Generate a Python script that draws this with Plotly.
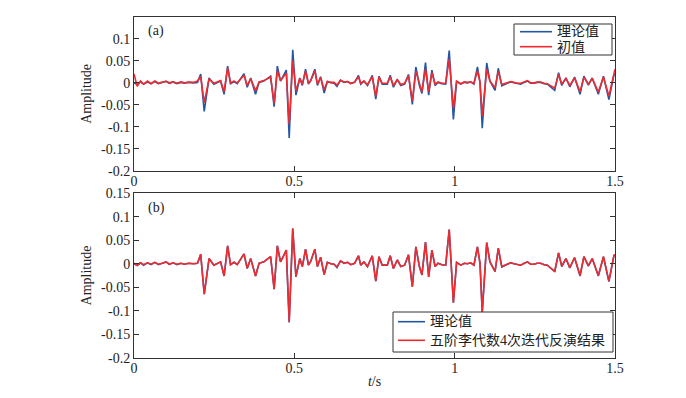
import plotly.graph_objects as go

# ---------------- data ----------------
t = [0.000, 0.010, 0.020, 0.030, 0.042, 0.053, 0.065, 0.076, 0.088, 0.100,
     0.110, 0.122, 0.134, 0.146, 0.158, 0.170, 0.185, 0.198, 0.208, 0.219,
     0.234, 0.249, 0.270, 0.281, 0.292, 0.301, 0.312, 0.322, 0.343, 0.353,
     0.364, 0.379, 0.390, 0.405, 0.426, 0.437, 0.447, 0.457, 0.475, 0.484,
     0.495, 0.505, 0.517, 0.525, 0.535, 0.544, 0.551, 0.564, 0.572, 0.582,
     0.593, 0.603, 0.614, 0.624, 0.633, 0.644, 0.655, 0.666, 0.676, 0.688,
     0.700, 0.707, 0.717, 0.728, 0.743, 0.754, 0.764, 0.774, 0.790, 0.799,
     0.809, 0.821, 0.832, 0.844, 0.856, 0.868, 0.879, 0.890, 0.898, 0.909,
     0.919, 0.929, 0.939, 0.948, 0.960, 0.972, 0.983, 0.996, 1.006, 1.019,
     1.030, 1.040, 1.050, 1.060, 1.071, 1.079, 1.086, 1.100, 1.110, 1.126,
     1.136, 1.147, 1.164, 1.175, 1.185, 1.196, 1.206, 1.217, 1.227, 1.237,
     1.247, 1.258, 1.268, 1.279, 1.289, 1.312, 1.324, 1.334, 1.347, 1.359,
     1.374, 1.391, 1.403, 1.417, 1.429, 1.448, 1.464, 1.481, 1.497, 1.500]

theory = [0.000, -0.004, 0.002, -0.003, 0.002, -0.002, 0.003, -0.002, 0.001, 0.004,
          -0.001, 0.002, -0.002, 0.001, -0.001, 0.001, 0.000, 0.001, 0.020, -0.065,
          0.011, -0.003, 0.004, -0.026, 0.038, -0.002, 0.003, -0.002, 0.021, -0.010,
          0.011, -0.026, 0.001, 0.004, 0.015, -0.054, 0.038, 0.004, 0.029, -0.125,
          0.075, -0.028, 0.011, -0.006, 0.031, -0.003, 0.005, 0.031, -0.006, 0.014,
          -0.023, 0.003, 0.000, -0.001, -0.008, 0.006, 0.001, 0.003, -0.002, 0.001,
          0.017, -0.003, 0.004, -0.006, 0.017, -0.037, 0.015, -0.003, -0.003, 0.017,
          -0.010, 0.008, -0.006, -0.003, 0.019, -0.049, 0.036, -0.006, -0.024, 0.046,
          -0.028, 0.029, -0.006, 0.001, -0.002, -0.003, 0.073, -0.083, 0.003, -0.003,
          0.001, 0.000, 0.002, -0.003, 0.036, 0.001, -0.103, 0.045, 0.004, -0.017,
          0.033, -0.007, -0.001, 0.002, 0.000, -0.002, -0.003, 0.001, 0.004, -0.001,
          -0.001, 0.001, 0.001, -0.002, -0.003, -0.017, 0.023, -0.006, 0.011, -0.009,
          0.013, -0.026, 0.015, -0.005, 0.011, -0.026, 0.015, -0.038, 0.019, 0.017]

initial = [0.020, -0.008, 0.004, -0.003, 0.004, -0.002, 0.004, -0.001, 0.002, 0.003,
           0.000, 0.002, -0.001, 0.002, 0.000, 0.002, 0.001, 0.004, 0.014, -0.045,
           0.009, -0.001, 0.005, -0.020, 0.034, 0.000, 0.004, 0.000, 0.017, -0.006,
           0.009, -0.018, 0.002, 0.005, 0.013, -0.046, 0.027, 0.005, 0.022, -0.094,
           0.050, -0.018, 0.010, -0.003, 0.026, -0.001, 0.005, 0.027, -0.003, 0.012,
           -0.016, 0.003, 0.001, 0.001, -0.005, 0.006, 0.002, 0.003, -0.001, 0.002,
           0.014, -0.001, 0.004, -0.004, 0.014, -0.030, 0.013, -0.001, -0.001, 0.014,
           -0.006, 0.007, -0.004, -0.001, 0.016, -0.041, 0.026, -0.003, -0.020, 0.031,
           -0.020, 0.023, -0.003, 0.002, -0.001, -0.001, 0.054, -0.058, 0.004, -0.002,
           0.002, 0.001, 0.002, -0.001, 0.027, 0.002, -0.075, 0.031, 0.004, -0.011,
           0.026, -0.004, 0.000, 0.003, 0.001, -0.001, -0.001, 0.002, 0.005, 0.000,
           0.000, 0.002, 0.002, -0.001, -0.002, -0.012, 0.019, -0.003, 0.010, -0.006,
           0.011, -0.020, 0.013, -0.003, 0.010, -0.021, 0.013, -0.030, 0.022, 0.031]

inverted = [0.001, -0.003, 0.002, -0.002, 0.002, -0.001, 0.003, -0.001, 0.001, 0.004,
            -0.001, 0.002, -0.001, 0.001, -0.001, 0.001, 0.000, 0.001, 0.020, -0.064,
            0.011, -0.003, 0.004, -0.026, 0.038, -0.002, 0.003, -0.002, 0.021, -0.010,
            0.011, -0.026, 0.001, 0.004, 0.015, -0.054, 0.038, 0.004, 0.029, -0.124,
            0.075, -0.027, 0.011, -0.006, 0.031, -0.003, 0.005, 0.031, -0.006, 0.014,
            -0.023, 0.003, 0.000, -0.001, -0.007, 0.006, 0.001, 0.003, -0.002, 0.001,
            0.017, -0.003, 0.004, -0.006, 0.017, -0.037, 0.015, -0.003, -0.003, 0.017,
            -0.010, 0.008, -0.006, -0.003, 0.019, -0.049, 0.036, -0.006, -0.024, 0.046,
            -0.028, 0.029, -0.006, 0.001, -0.002, -0.003, 0.073, -0.083, 0.003, -0.003,
            0.001, 0.000, 0.002, -0.003, 0.036, 0.001, -0.103, 0.045, 0.004, -0.016,
            0.033, -0.006, -0.001, 0.002, 0.000, -0.002, -0.003, 0.001, 0.004, -0.001,
            -0.001, 0.001, 0.001, -0.002, -0.003, -0.016, 0.023, -0.005, 0.011, -0.008,
            0.013, -0.025, 0.015, -0.004, 0.011, -0.025, 0.015, -0.037, 0.019, 0.017]

x_tickvals = [0, 0.5, 1, 1.5]
x_ticktext = ["0", "0.5", "1", "1.5"]
y_tickvals_top = [0.1, 0.05, 0, -0.05, -0.1, -0.15, -0.2]
y_ticktext_top = ["0.1", "0.05", "0", "-0.05", "-0.1", "-0.15", "-0.2"]
y_tickvals_bot = [0.15, 0.1, 0.05, 0, -0.05, -0.1, -0.15, -0.2]
y_ticktext_bot = ["0.15", "0.1", "0.05", "0", "-0.05", "-0.1", "-0.15", "-0.2"]

name_theory = "理论值"
name_initial = "初值"
name_inverted = "五阶李代数4次迭代反演结果"

# ---------------- figure ----------------
BLUE = "#2456a6"
RED = "#ef2b2f"
EDGE = "#333333"
FONT = "Liberation Serif, Times New Roman, Noto Sans CJK SC, serif"
W, H = 686, 398
OFF = 8  # page offset of the plot div


def px(sx):
    return (sx - OFF) / W


def py(sy):
    return 1 - (sy - OFF) / H


fig = go.Figure()
fig.add_trace(go.Scatter(x=t, y=theory, mode="lines", name=name_theory,
                         line=dict(color=BLUE, width=1.6), xaxis="x", yaxis="y"))
fig.add_trace(go.Scatter(x=t, y=initial, mode="lines", name=name_initial,
                         line=dict(color=RED, width=1.6), xaxis="x", yaxis="y"))
fig.add_trace(go.Scatter(x=t, y=theory, mode="lines", name=name_theory,
                         line=dict(color=BLUE, width=1.6), xaxis="x2", yaxis="y2"))
fig.add_trace(go.Scatter(x=t, y=inverted, mode="lines", name=name_inverted,
                         line=dict(color=RED, width=1.6), xaxis="x2", yaxis="y2"))

xdom = [px(134), px(615)]
top_dom = [py(171), py(16.7)]
bot_dom = [py(357.7), py(193.3)]

axis_common = dict(showline=True, linecolor=EDGE, linewidth=1,
                   mirror="allticks", ticks="inside", ticklen=5,
                   tickcolor=EDGE, showgrid=False, zeroline=False,
                   automargin=False,
                   tickfont=dict(family=FONT, size=14, color="#222222"))

# ---- legend boxes (drawn in paper coordinates) ----
shapes = []
annotations = []


def add_legend(box, rows, line_x, text_x):
    x0, y0, x1, y1 = box
    shapes.append(dict(type="rect", xref="paper", yref="paper",
                       x0=px(x0), x1=px(x1), y0=py(y1), y1=py(y0),
                       line=dict(color=EDGE, width=1), fillcolor="white",
                       layer="above"))
    for (label, color, ry) in rows:
        shapes.append(dict(type="line", xref="paper", yref="paper",
                           x0=px(line_x[0]), x1=px(line_x[1]),
                           y0=py(ry), y1=py(ry),
                           line=dict(color=color, width=1.6), layer="above"))
        annotations.append(dict(text=label, xref="paper", yref="paper",
                                x=px(text_x), y=py(ry), xanchor="left",
                                yanchor="middle", showarrow=False,
                                font=dict(family=FONT, size=14, color="#222222")))


add_legend((514, 24, 612, 55),
           [(name_theory, BLUE, 31.7), (name_initial, RED, 46.7)],
           (520, 552), 555)
add_legend((393, 312, 613, 352),
           [(name_theory, BLUE, 321.7), (name_inverted, RED, 340.3)],
           (398, 425), 428)

annotations += [
    dict(text="(a)", x=px(146), y=py(31), xref="paper", yref="paper",
         xanchor="left", yanchor="middle", showarrow=False,
         font=dict(family=FONT, size=14)),
    dict(text="(b)", x=px(146), y=py(208), xref="paper", yref="paper",
         xanchor="left", yanchor="middle", showarrow=False,
         font=dict(family=FONT, size=14)),
]

fig.update_layout(
    width=W, height=H,
    margin=dict(l=0, r=0, t=0, b=0, pad=0, autoexpand=False),
    paper_bgcolor="white", plot_bgcolor="white",
    font=dict(family=FONT, size=14, color="#222222"),
    showlegend=False,
    xaxis=dict(domain=xdom, range=[0, 1.5], anchor="y",
               tickvals=x_tickvals, ticktext=x_ticktext,
               ticklabelstandoff=-3, **axis_common),
    yaxis=dict(domain=top_dom, range=[-0.2, 0.15], anchor="x",
               tickvals=y_tickvals_top, ticktext=y_ticktext_top,
               title=dict(text="Amplitude", standoff=6,
                          font=dict(family=FONT, size=14)),
               **axis_common),
    xaxis2=dict(domain=xdom, range=[0, 1.5], anchor="y2",
                tickvals=x_tickvals, ticktext=x_ticktext,
                ticklabelstandoff=-3,
                title=dict(text="<i>t</i>/s", standoff=1,
                           font=dict(family=FONT, size=14)),
                **axis_common),
    yaxis2=dict(domain=bot_dom, range=[-0.2, 0.15], anchor="x2",
                tickvals=y_tickvals_bot, ticktext=y_ticktext_bot,
                title=dict(text="Amplitude", standoff=6,
                           font=dict(family=FONT, size=14)),
                **axis_common),
    shapes=shapes,
    annotations=annotations,
)

fig.write_html("out.html")
